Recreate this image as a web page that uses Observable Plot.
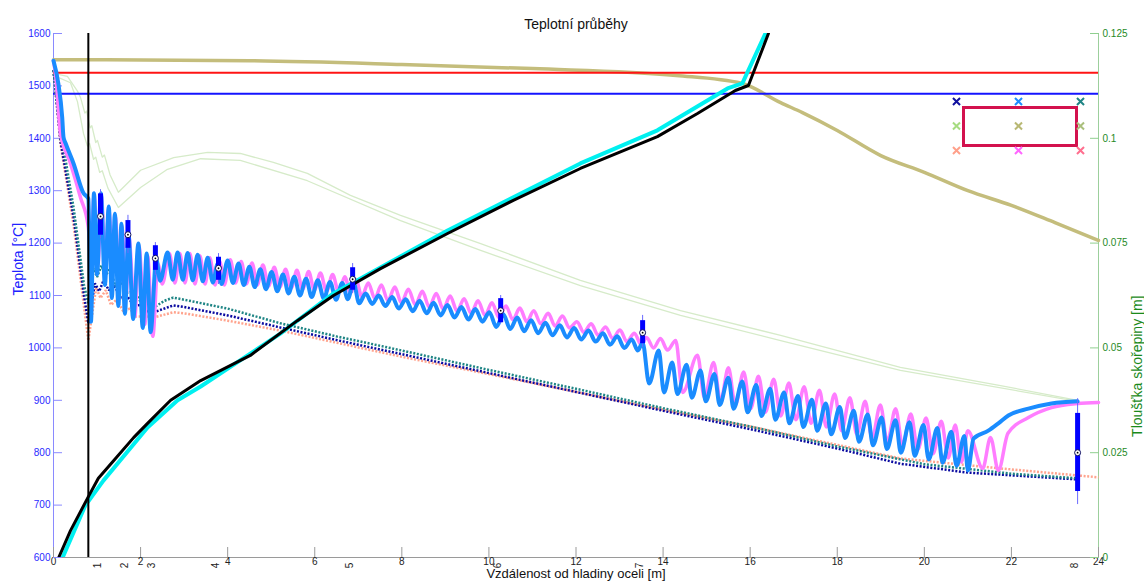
<!DOCTYPE html>
<html>
<head>
<meta charset="utf-8">
<script src="https://cdn.jsdelivr.net/npm/d3@7"></script>
<script src="https://cdn.jsdelivr.net/npm/@observablehq/plot@0.6"></script>
<style>
  body { margin: 0; background: #fff; }
  #wrap { position: relative; width: 1144px; height: 582px; overflow: hidden; }
  #wrap svg { position: absolute; }
</style>
</head>
<body>
<div id="wrap"></div>
<script>
// ---------- tick labels ----------
const xTicks = [0, 2, 4, 6, 8, 10, 12, 14, 16, 18, 20, 22, 24];
const yTicks = [600, 700, 800, 900, 1000, 1100, 1200, 1300, 1400, 1500, 1600];
const rightTickValues = [0, 0.025, 0.05, 0.075, 0.1, 0.125];
const rightTickLabels = ["0", "0.025", "0.05", "0.075", "0.1", "0.125"];

// ---------- reference lines ----------
const liquidusT = 1525;
const solidusT = 1485;
const moldEnd = 0.8;

// ---------- temperature series [distance m, °C] ----------
const midFaceBlue = [
  [0,1548],[0.11,1505],[0.2,1440],[0.23,1402],[0.28,1390],[0.46,1352],[0.69,1295],[0.8,1285],
  [0.86,1050],[0.93,1295],[1.00,1140],[1.09,1295],[1.18,1120],[1.27,1270],[1.34,1095],[1.41,1256],
  [1.49,1080],[1.56,1237],[1.64,1065],[1.72,1218],[1.83,1055],[1.95,1199],[2.05,1038],[2.14,1180],
  [2.23,1030],[2.36,1170],[2.45,1128],[2.62,1182],[2.74,1130],[2.85,1182],[2.97,1130],[3.08,1181],
  [3.20,1129],[3.31,1178],[3.43,1127],[3.54,1172],[3.66,1125],[3.77,1160],[3.86,1122],[4.00,1167],
  [4.12,1124],[4.25,1161],[4.37,1120],[4.50,1155],[4.62,1116],[4.75,1150],[4.88,1112],[5.01,1145],
  [5.14,1108],[5.27,1140],[5.40,1104],[5.53,1136],[5.66,1100],[5.80,1132],[5.93,1097],[6.07,1129],
  [6.21,1094],[6.35,1126],[6.49,1092],[6.63,1124],[6.76,1093],[6.89,1125],[7.02,1085],[7.17,1104],
  [7.32,1084],[7.47,1100],[7.62,1080],[7.78,1097],[7.93,1075],[8.09,1093],[8.25,1070],[8.41,1090],
  [8.57,1066],[8.73,1086],[8.89,1062],[9.05,1082],[9.21,1058],[9.37,1078],[9.53,1054],[9.69,1074],
  [9.85,1050],[10.01,1068],[10.17,1040],[10.33,1064],[10.49,1036],[10.65,1058],[10.81,1032],[10.97,1053],
  [11.13,1028],[11.30,1048],[11.46,1024],[11.63,1043],[11.79,1020],[11.96,1038],[12.12,1016],[12.29,1033],
  [12.45,1012],[12.62,1028],[12.78,1006],[12.95,1022],[13.11,1000],[13.28,1016],[13.42,995],[13.53,1010],
  [13.68,932],[13.90,995],[14.02,915],[14.21,972],[14.33,912],[14.54,968],[14.66,905],[14.86,957],
  [14.98,898],[15.18,950],[15.30,891],[15.50,943],[15.62,884],[15.82,936],[15.94,877],[16.14,929],
  [16.26,870],[16.46,922],[16.58,863],[16.78,915],[16.90,856],[17.10,908],[17.22,849],[17.42,901],
  [17.54,842],[17.74,894],[17.86,835],[18.06,887],[18.18,828],[18.38,880],[18.50,821],[18.70,873],
  [18.82,814],[19.02,867],[19.14,807],[19.34,862],[19.46,800],[19.66,858],[19.78,794],[19.98,853],
  [20.10,787],[20.30,847],[20.42,781],[20.62,840],[20.74,775],[20.92,832],[21.00,766],[21.13,827],
  [21.47,842],[21.70,856],[21.93,871],[22.39,884],[22.92,894],[23.52,898]
];
const midFacePink = [
  [0,1548],[0.05,1520],[0.16,1409],[0.39,1352],[0.62,1287],[0.8,1230],
  [0.86,1157],[0.93,1290],[1.02,1157],[1.10,1290],[1.19,1157],[1.27,1265],[1.36,1150],[1.42,1250],
  [1.51,1125],[1.57,1232],[1.67,1100],[1.73,1212],[1.87,1060],[1.96,1195],[2.10,1045],[2.16,1176],
  [2.28,1022],[2.40,1160],[2.50,1122],[2.66,1180],[2.79,1124],[2.90,1180],[3.02,1124],[3.13,1180],
  [3.25,1122],[3.36,1176],[3.48,1122],[3.59,1172],[3.71,1120],[3.82,1165],[3.92,1120],[4.06,1168],
  [4.18,1124],[4.31,1165],[4.43,1122],[4.56,1162],[4.68,1120],[4.81,1158],[4.94,1118],[5.07,1154],
  [5.20,1116],[5.33,1150],[5.46,1114],[5.59,1148],[5.72,1112],[5.86,1146],[5.99,1110],[6.13,1143],
  [6.27,1108],[6.41,1140],[6.55,1106],[6.69,1136],[6.82,1104],[6.95,1130],[7.08,1098],[7.23,1124],
  [7.38,1094],[7.53,1120],[7.68,1090],[7.84,1116],[7.99,1086],[8.15,1112],[8.31,1082],[8.47,1108],
  [8.63,1078],[8.79,1104],[8.95,1074],[9.11,1099],[9.27,1070],[9.43,1094],[9.59,1066],[9.75,1090],
  [9.91,1062],[10.07,1086],[10.23,1058],[10.39,1080],[10.55,1054],[10.71,1076],[10.87,1050],[11.03,1071],
  [11.19,1046],[11.36,1066],[11.52,1042],[11.69,1061],[11.85,1038],[12.02,1050],[12.18,1030],[12.35,1046],
  [12.51,1024],[12.68,1040],[12.84,1018],[13.01,1034],[13.17,1012],[13.34,1028],[13.50,1006],[13.62,1020],
  [13.78,1000],[13.94,1018],[14.10,996],[14.29,1014],[14.45,915],[14.79,986],[14.95,905],[15.16,972],
  [15.32,898],[15.50,962],[15.66,891],[15.85,954],[16.01,884],[16.19,946],[16.35,877],[16.54,940],
  [16.70,870],[16.89,933],[17.05,863],[17.24,926],[17.40,856],[17.59,919],[17.75,849],[17.94,912],
  [18.10,842],[18.29,905],[18.45,835],[18.64,898],[18.80,828],[18.99,891],[19.15,821],[19.34,884],
  [19.50,814],[19.69,874],[19.85,806],[20.04,866],[20.20,798],[20.39,860],[20.55,790],[20.71,853],
  [20.85,782],[21.00,842],[21.34,770],[21.52,829],[21.70,766],[21.92,837],[22.39,867],[22.92,886],
  [23.52,894],[24.0,896]
];
const cornerTeal = [
  [0,1530],[0.16,1400],[0.23,1382],[0.46,1268],[0.7,1120],[0.8,1085],[0.92,1152],[1.0,1135],
  [1.1,1157],[1.2,1138],[1.3,1152],[1.42,1118],[1.55,1125],[1.7,1105],[1.85,1108],[2.0,1088],
  [2.15,1092],[2.3,1077],[2.55,1090],[2.75,1096],[3.0,1092],[4.0,1075],[5.21,1047],[6.5,1022],
  [8,995],[10,958],[12,922],[14,885],[16,850],[18,812],[20,778],[22,760],[23.52,751]
];
const cornerNavy = [
  [0,1530],[0.16,1395],[0.46,1250],[0.7,1100],[0.8,1047],[0.95,1123],[1.05,1108],[1.15,1129],
  [1.27,1110],[1.4,1118],[1.55,1095],[1.7,1098],[1.85,1080],[2.0,1082],[2.15,1070],[2.3,1068],
  [2.75,1081],[3.0,1078],[4.0,1062],[5.21,1039],[6.5,1015],[8,988],[10,952],[12,916],[14,880],
  [16,845],[18,808],[19.45,779],[21,762],[23.52,749]
];
const cornerSalmon = [
  [0,1530],[0.16,1390],[0.46,1235],[0.7,1080],[0.8,1014],[0.98,1115],[1.08,1095],[1.2,1110],
  [1.32,1082],[1.45,1092],[1.6,1070],[1.75,1075],[1.9,1060],[2.1,1060],[2.3,1058],[2.75,1068],
  [3.0,1066],[4.0,1052],[5.21,1033],[6.5,1010],[8,983],[10,950],[12,916],[14,882],[16,850],
  [18,815],[19.45,789],[21.75,770],[24,753]
];
const sideGreenA = [
  [0,1524],[0.32,1518],[0.55,1490],[0.62,1478],[0.72,1448],[0.76,1452],[0.84,1420],[0.88,1424],
  [0.97,1392],[1.01,1396],[1.12,1364],[1.17,1368],[1.3,1330],[1.49,1297],[2.0,1339],[2.76,1363],
  [3.54,1373],[4.29,1371],[5.05,1354],[5.83,1333],[6.82,1291],[7.97,1253],[9.81,1199],[12.1,1129],
  [14.4,1071],[16.7,1024],[19.45,963],[21.75,928],[23.52,900]
];
const sideGreenB = [
  [0,1520],[0.39,1506],[0.55,1470],[0.69,1409],[0.78,1385],[0.83,1390],[0.92,1360],[0.97,1364],
  [1.06,1335],[1.12,1338],[1.25,1305],[1.49,1268],[2.0,1306],[2.6,1340],[3.38,1361],[4.29,1358],
  [5.83,1319],[7.97,1243],[9.81,1186],[12.1,1119],[14.4,1062],[16.7,1014],[19.45,957],[23.52,898]
];
const centerOlive = [
  [0,1550],[4.5,1548],[8,1541],[11,1533],[14.3,1520],[15.8,1505],[16.7,1468],[17.2,1449],
  [18,1415],[19,1367],[20,1335],[21,1300],[22,1272],[23,1239],[24,1205]
];

// ---------- shell thickness series [distance m, thickness m] ----------
const shellBlack = [
  [0.12,0],[0.39,0.0064],[0.78,0.0141],[1.03,0.0189],[1.38,0.0231],[1.84,0.0286],[2.16,0.032],
  [2.69,0.0375],[3.38,0.0422],[4.52,0.0482],[5.6,0.0565],[6.43,0.0625],[7.51,0.0689],[9.05,0.0773],
  [10.56,0.0852],[12.1,0.0928],[13.87,0.1004],[14.79,0.1059],[15.66,0.1114],[15.96,0.1126],[16.42,0.125]
];
const shellCyan = [
  [0.21,0],[0.73,0.0124],[1.15,0.0184],[2.16,0.031],[2.85,0.0375],[3.38,0.0408],[5.21,0.0534],
  [6.43,0.063],[9.05,0.078],[12.1,0.094],[13.87,0.1019],[15.48,0.1119],[15.82,0.1131],[16.35,0.125]
];

// ---------- measurement markers ----------
const markerX = [1.08, 1.71, 2.34, 3.79, 6.87, 10.27, 13.53, 23.52];
const markerLabels = ["1", "2", "3", "4", "5", "6", "7", "8"];
const whiskerLow = [1208, 1180, 1138, 1121, 1104, 1046, 1001, 701];
const whiskerHigh = [1302, 1253, 1201, 1180, 1161, 1100, 1062, 903];
const boxLow = [1215, 1190, 1148, 1129, 1110, 1048, 1008, 726];
const boxHigh = [1294, 1243, 1195, 1173, 1153, 1094, 1052, 875];
const markerMid = [1251, 1216, 1171, 1152, 1131, 1071, 1029, 800];

// ---------- cross-section legend ----------
const legendCol = [0, 1, 2, 0, 1, 2, 0, 1, 2];
const legendRow = [0, 0, 0, 1, 1, 1, 2, 2, 2];
const legendColor = ["#10109e", "#1e8cff", "#1f8585", "#a6dc80", "#b8b874", "#aabf7c", "#ffa08a", "#ff66ff", "#ff6f8f"];

// ---------- build ----------
const toT = v => 600 + v * 8000;   // right-axis (thickness) into the shared y scale
const rightTickPos = rightTickValues.map(toT);
const shellBlackT = shellBlack.map(([x, v]) => [x, toT(v)]);
const shellCyanT = shellCyan.map(([x, v]) => [x, toT(v)]);
const markers = markerX.map((x, i) => ({
  x, label: markerLabels[i], wl: whiskerLow[i], wh: whiskerHigh[i], bl: boxLow[i], bh: boxHigh[i], mid: markerMid[i]
}));
const legendPts = legendCol.map((c, i) => ({col: c, row: legendRow[i], color: legendColor[i]}));

const X = d => d[0], Y = d => d[1];
const font = "'Liberation Sans', Arial, sans-serif";
const dotted = {strokeWidth: 2.5, strokeDasharray: "2,1.6", strokeLinecap: "butt", strokeLinejoin: "miter"};

const main = Plot.plot({
  width: 1144, height: 582,
  marginLeft: 53, marginRight: 46, marginTop: 33, marginBottom: 25,
  style: {fontFamily: font, fontSize: "10px", background: "white", overflow: "visible"},
  x: {domain: [0, 24]},
  y: {domain: [600, 1600]},
  marks: [
    Plot.ruleY([600], {stroke: "#9a9a9a"}),
    Plot.ruleX([0], {stroke: "#8a8aff"}),
    Plot.ruleX([24], {stroke: "#9ccf9c"}),
    Plot.axisX({ticks: xTicks, tickSize: -10, tickPadding: 10, stroke: "#9a9a9a", fill: "#222", label: null, tickFormat: d => String(d)}),
    Plot.axisY({anchor: "left", ticks: yTicks, tickSize: -9, tickPadding: 12, stroke: "#8a8aff", fill: "#2a2aff", label: null, tickFormat: d => String(d)}),
    Plot.axisY({anchor: "right", ticks: rightTickPos, tickSize: -9, tickPadding: 13, stroke: "#8fcf8f", fill: "#1f8a1f", label: null,
      tickFormat: d => rightTickLabels[rightTickPos.findIndex(p => Math.abs(p - d) < 1e-6)]}),

    Plot.line(sideGreenA, {x: X, y: Y, stroke: "#d6ebc9", strokeWidth: 1.3}),
    Plot.line(sideGreenB, {x: X, y: Y, stroke: "#d6ebc9", strokeWidth: 1.3}),
    Plot.line(centerOlive, {x: X, y: Y, stroke: "#c4bd7c", strokeWidth: 3.5, curve: "monotone-x"}),
    Plot.ruleY([liquidusT], {stroke: "#ff1414", strokeWidth: 2}),
    Plot.ruleY([solidusT], {stroke: "#1414ff", strokeWidth: 1.8}),

    Plot.line(cornerSalmon, {x: X, y: Y, stroke: "#ffa48e", ...dotted}),
    Plot.line(cornerNavy, {x: X, y: Y, stroke: "#0a0aa0", ...dotted}),
    Plot.line(cornerTeal, {x: X, y: Y, stroke: "#1f8585", ...dotted}),

    Plot.line(midFacePink, {x: X, y: Y, stroke: "#ff7dff", strokeWidth: 3.5, curve: "monotone-x"}),
    Plot.line(midFaceBlue, {x: X, y: Y, stroke: "#1a8cff", strokeWidth: 4, curve: "monotone-x"}),

    Plot.line(shellCyanT, {x: X, y: Y, stroke: "#00f0f0", strokeWidth: 4, clip: true}),
    Plot.line(shellBlackT, {x: X, y: Y, stroke: "#000", strokeWidth: 3, clip: true}),
    Plot.ruleX([moldEnd], {stroke: "#000", strokeWidth: 2}),

    Plot.ruleX(markers, {x: "x", y1: "wl", y2: "wh", stroke: "#6a6aff", strokeWidth: 1}),
    Plot.ruleX(markers, {x: "x", y1: "bl", y2: "bh", stroke: "#0000ff", strokeWidth: 5}),
    Plot.dot(markers, {x: "x", y: "mid", r: 3, fill: "white", stroke: "#101060", strokeWidth: 1}),
    Plot.dot(markers, {x: "x", y: "mid", r: 0.9, fill: "#000"}),
    Plot.text(markers, {x: "x", text: "label", frameAnchor: "bottom", dy: 8, rotate: -90, fill: "#222", fontSize: 10}),

    Plot.text(["Teplotní průběhy"], {frameAnchor: "top", dy: -14, fontSize: 14, fill: "#111"}),
    Plot.text(["Vzdálenost od hladiny oceli [m]"], {frameAnchor: "bottom", dy: 20, fontSize: 13, fill: "#111"}),
    Plot.text(["Teplota [°C]"], {frameAnchor: "left", dx: -35, rotate: -90, fontSize: 14, fill: "#2020ff"}),
    Plot.text(["Tloušťka skořepiny [m]"], {frameAnchor: "right", dx: 39, rotate: -90, fontSize: 14, fill: "#1a8a1a"})
  ]
});
main.style.left = "0px";
main.style.top = "0px";

const inset = Plot.plot({
  width: 137, height: 58,
  marginLeft: 12, marginRight: 12, marginTop: 10, marginBottom: 10,
  style: {background: "transparent", overflow: "visible"},
  x: {domain: [0, 2], insetLeft: -7, insetRight: -4, axis: null},
  y: {domain: [0, 2], insetTop: -6, insetBottom: -5, reverse: true, axis: null},
  color: {type: "identity"},
  marks: [
    Plot.frame({stroke: "#d3124e", strokeWidth: 3}),
    Plot.dot(legendPts, {x: "col", y: "row", symbol: "times", r: 3.3, stroke: "color", strokeWidth: 2})
  ]
});
inset.style.left = "951px";
inset.style.top = "97px";

const wrap = document.getElementById("wrap");
wrap.appendChild(main);
wrap.appendChild(inset);
</script>
</body>
</html>
